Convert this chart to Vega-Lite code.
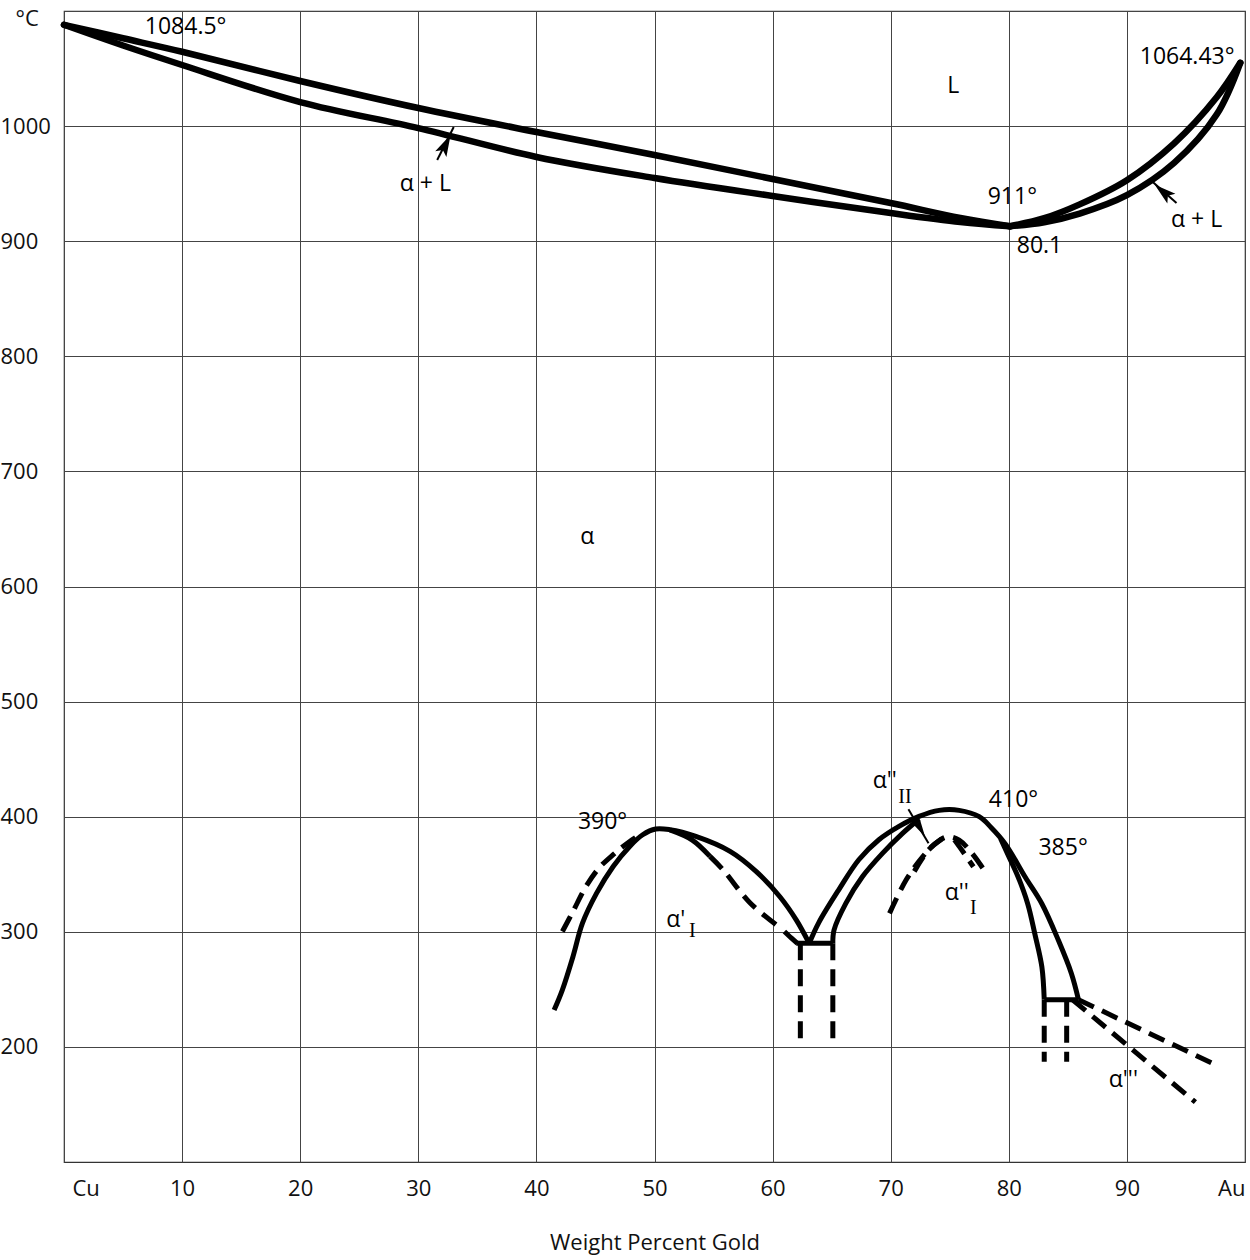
{
  "$schema": "https://vega.github.io/schema/vega-lite/v6.json",
  "width": 1181,
  "height": 1151,
  "autosize": {"type": "none"},
  "padding": {"left": 64, "top": 11, "right": 5, "bottom": 98},
  "background": "white",
  "config": {"view": {"stroke": "#333", "strokeWidth": 1.2}, "font": "Open Sans"},
  "datasets": {
    "top": [
      {"c": "liqCu", "x": 0, "t": 1088}, {"c": "liqCu", "x": 5, "t": 1076.3}, {"c": "liqCu", "x": 10, "t": 1064.6}, {"c": "liqCu", "x": 20, "t": 1039.2}, {"c": "liqCu", "x": 30, "t": 1015.7}, {"c": "liqCu", "x": 40, "t": 994.9}, {"c": "liqCu", "x": 50, "t": 974.9}, {"c": "liqCu", "x": 60, "t": 954}, {"c": "liqCu", "x": 70, "t": 933.2}, {"c": "liqCu", "x": 75.9, "t": 920.2}, {"c": "liqCu", "x": 80.1, "t": 913},
      {"c": "solCu", "x": 0, "t": 1088}, {"c": "solCu", "x": 5, "t": 1070}, {"c": "solCu", "x": 10, "t": 1053.1}, {"c": "solCu", "x": 20, "t": 1020.9}, {"c": "solCu", "x": 30, "t": 998.3}, {"c": "solCu", "x": 40, "t": 973.2}, {"c": "solCu", "x": 50, "t": 954.9}, {"c": "solCu", "x": 60, "t": 939.3}, {"c": "solCu", "x": 70, "t": 924.5}, {"c": "solCu", "x": 75.9, "t": 916.7}, {"c": "solCu", "x": 80.1, "t": 913},
      {"c": "liqAu", "x": 80.1, "t": 913}, {"c": "liqAu", "x": 83, "t": 920}, {"c": "liqAu", "x": 86, "t": 932}, {"c": "liqAu", "x": 90, "t": 953}, {"c": "liqAu", "x": 94, "t": 985}, {"c": "liqAu", "x": 97.6, "t": 1025}, {"c": "liqAu", "x": 99.6, "t": 1055},
      {"c": "solAu", "x": 80.1, "t": 913}, {"c": "solAu", "x": 83, "t": 916.5}, {"c": "solAu", "x": 86, "t": 924}, {"c": "solAu", "x": 90, "t": 940}, {"c": "solAu", "x": 94, "t": 968}, {"c": "solAu", "x": 97.6, "t": 1010}, {"c": "solAu", "x": 99.6, "t": 1055}
    ],
    "low": [
      {"c": "dome1", "x": 41.5, "t": 232}, {"c": "dome1", "x": 42.2, "t": 249.6}, {"c": "dome1", "x": 43.1, "t": 278.6}, {"c": "dome1", "x": 43.9, "t": 307.5}, {"c": "dome1", "x": 45.1, "t": 333.6}, {"c": "dome1", "x": 46.5, "t": 356.8}, {"c": "dome1", "x": 47.9, "t": 374.2}, {"c": "dome1", "x": 49.0, "t": 384.3}, {"c": "dome1", "x": 50.1, "t": 389.3}, {"c": "dome1", "x": 51.3, "t": 388.7}, {"c": "dome1", "x": 53.5, "t": 382.9}, {"c": "dome1", "x": 56.4, "t": 369.9}, {"c": "dome1", "x": 58.6, "t": 352.5}, {"c": "dome1", "x": 60.6, "t": 330.7}, {"c": "dome1", "x": 62.0, "t": 310.4}, {"c": "dome1", "x": 63.1, "t": 290},
      {"c": "in1", "x": 51.3, "t": 388.5}, {"c": "in1", "x": 53.2, "t": 379.7}, {"c": "in1", "x": 54.7, "t": 365.5},
      {"c": "hook1", "x": 61.0, "t": 300.3}, {"c": "hook1", "x": 61.6, "t": 294.5}, {"c": "hook1", "x": 62.1, "t": 290},
      {"c": "tie1", "x": 62.0, "t": 290}, {"c": "tie1", "x": 65.1, "t": 290},
      {"c": "dome2", "x": 63.1, "t": 290}, {"c": "dome2", "x": 63.9, "t": 307.8}, {"c": "dome2", "x": 65.6, "t": 336.5}, {"c": "dome2", "x": 67.3, "t": 362.6}, {"c": "dome2", "x": 69.0, "t": 380}, {"c": "dome2", "x": 70.7, "t": 391.6}, {"c": "dome2", "x": 72.4, "t": 400.3}, {"c": "dome2", "x": 74.1, "t": 405.5}, {"c": "dome2", "x": 75.8, "t": 405.5}, {"c": "dome2", "x": 77.5, "t": 400}, {"c": "dome2", "x": 78.5, "t": 390.7}, {"c": "dome2", "x": 79.7, "t": 376.4}, {"c": "dome2", "x": 81.4, "t": 347.4}, {"c": "dome2", "x": 82.8, "t": 324.4}, {"c": "dome2", "x": 84.2, "t": 292.6}, {"c": "dome2", "x": 85.3, "t": 263.8}, {"c": "dome2", "x": 85.9, "t": 241},
      {"c": "in2L", "x": 65.1, "t": 290}, {"c": "in2L", "x": 65.2, "t": 301.5}, {"c": "in2L", "x": 66.2, "t": 324.7}, {"c": "in2L", "x": 67.6, "t": 347.8}, {"c": "in2L", "x": 69.3, "t": 368.1}, {"c": "in2L", "x": 71.0, "t": 385.5}, {"c": "in2L", "x": 72.4, "t": 398},
      {"c": "in2R", "x": 79.3, "t": 381}, {"c": "in2R", "x": 79.9, "t": 367.7}, {"c": "in2R", "x": 80.8, "t": 347.4}, {"c": "in2R", "x": 81.6, "t": 324.4}, {"c": "in2R", "x": 82.2, "t": 298.4}, {"c": "in2R", "x": 82.8, "t": 269.5}, {"c": "in2R", "x": 83.0, "t": 241},
      {"c": "tie2", "x": 83.0, "t": 241}, {"c": "tie2", "x": 85.9, "t": 241}
    ],
    "dashed": [
      {"c": "dL1", "x": 42.2, "t": 300.3}, {"c": "dL1", "x": 43.1, "t": 317.7}, {"c": "dL1", "x": 44.2, "t": 339.4}, {"c": "dL1", "x": 45.3, "t": 355.4}, {"c": "dL1", "x": 46.5, "t": 367}, {"c": "dL1", "x": 47.9, "t": 378.5}, {"c": "dL1", "x": 49.0, "t": 385.8},
      {"c": "dI1", "x": 54.7, "t": 365.5}, {"c": "dI1", "x": 55.8, "t": 353.9}, {"c": "dI1", "x": 58.1, "t": 325}, {"c": "dI1", "x": 60.5, "t": 304.6},
      {"c": "vd1a", "x": 62.35, "t": 290}, {"c": "vd1a", "x": 62.35, "t": 200},
      {"c": "vd1b", "x": 65.1, "t": 290}, {"c": "vd1b", "x": 65.1, "t": 200},
      {"c": "vd2a", "x": 83.0, "t": 241}, {"c": "vd2a", "x": 83.0, "t": 187},
      {"c": "vd2b", "x": 84.9, "t": 241}, {"c": "vd2b", "x": 84.9, "t": 187},
      {"c": "tail1", "x": 85.9, "t": 241}, {"c": "tail1", "x": 97.6, "t": 184},
      {"c": "tail2", "x": 85.4, "t": 241}, {"c": "tail2", "x": 95.8, "t": 152},
      {"c": "d3a", "x": 69.9, "t": 316}, {"c": "d3a", "x": 71.3, "t": 345}, {"c": "d3a", "x": 72.7, "t": 365.2}, {"c": "d3a", "x": 73.8, "t": 376.9}, {"c": "d3a", "x": 74.8, "t": 382.6}, {"c": "d3a", "x": 75.8, "t": 379.7}, {"c": "d3a", "x": 76.9, "t": 368}, {"c": "d3a", "x": 78.0, "t": 352.2},
      {"c": "d3b", "x": 72.0, "t": 352.5}, {"c": "d3b", "x": 73.2, "t": 371}, {"c": "d3b", "x": 74.3, "t": 380.5},
      {"c": "d3c", "x": 75.4, "t": 380}, {"c": "d3c", "x": 76.3, "t": 367}, {"c": "d3c", "x": 77.0, "t": 356.5}
    ],
    "shafts": [
      {"c": "sL", "x": 31.6, "t": 970.5}, {"c": "sL", "x": 33.0, "t": 999.2},
      {"c": "sR", "x": 92.0, "t": 953.2}, {"c": "sR", "x": 94.2, "t": 933.2},
      {"c": "sA", "x": 71.5, "t": 406.4}, {"c": "sA", "x": 73.2, "t": 376.9}
    ],
    "heads": [
      {"a": "L", "x": 32.3, "t": 983.6},
      {"a": "R", "x": 93.1, "t": 942.7},
      {"a": "A", "x": 72.5, "t": 389.9}
    ],
    "labels": [
      {"x": 10.3, "t": 1086.1, "label": "1084.5°"},
      {"x": 95.1, "t": 1060, "label": "1064.43°"},
      {"x": 75.3, "t": 1034.8, "label": "L"},
      {"x": 30.6, "t": 949.7, "label": "α + L"},
      {"x": 80.3, "t": 938.4, "label": "911°"},
      {"x": 82.6, "t": 895.8, "label": "80.1"},
      {"x": 95.9, "t": 918.4, "label": "α + L"},
      {"x": 44.3, "t": 643, "label": "α"},
      {"x": 45.6, "t": 395.7, "label": "390°"},
      {"x": 51.8, "t": 310, "label": "α'"},
      {"x": 69.5, "t": 431, "label": "α''"},
      {"x": 80.4, "t": 414.8, "label": "410°"},
      {"x": 84.6, "t": 373, "label": "385°"},
      {"x": 75.6, "t": 333.5, "label": "α''"},
      {"x": 89.7, "t": 171, "label": "α'''"}
    ],
    "subs": [
      {"x": 53.2, "t": 300.5, "label": "I"},
      {"x": 71.2, "t": 417.5, "label": "II"},
      {"x": 77.0, "t": 321, "label": "I"}
    ]
  },
  "encoding": {
    "x": {
      "field": "x", "type": "quantitative",
      "scale": {"domain": [0, 100], "nice": false, "zero": false},
      "axis": {
        "values": [0, 10, 20, 30, 40, 50, 60, 70, 80, 90, 100],
        "labelExpr": "datum.value == 0 ? 'Cu' : datum.value == 100 ? 'Au' : datum.label",
        "grid": true, "gridColor": "#444", "gridWidth": 1,
        "domain": false, "ticks": false, "tickSize": 0,
        "labelPadding": 16, "labelFont": "Open Sans", "labelFontSize": 22, "labelColor": "#111",
        "labelFlush": true,
        "labelOffset": {"condition": {"test": "datum.value == 0", "value": 8}, "value": 0},
        "labelOverlap": false,
        "title": "Weight Percent Gold", "titleFont": "Open Sans", "titleFontSize": 22,
        "titleFontWeight": "normal", "titleColor": "#111", "titlePadding": 33
      }
    },
    "y": {
      "field": "t", "type": "quantitative",
      "scale": {"domain": [100, 1100], "nice": false, "zero": false},
      "axis": {
        "values": [200, 300, 400, 500, 600, 700, 800, 900, 1000, 1100],
        "format": "d",
        "labelExpr": "datum.value == 1100 ? '°C' : datum.label",
        "grid": true, "gridColor": "#444", "gridWidth": 1,
        "domain": false, "ticks": false, "tickSize": 0,
        "labelAlign": "left", "labelBaseline": "middle",
        "labelPadding": {"condition": {"test": "datum.value == 1100", "value": 49}, "value": 64},
        "labelOffset": {"condition": {"test": "datum.value == 1100", "value": 7}, "value": 0},
        "labelFont": "Open Sans", "labelFontSize": 22, "labelColor": "#111",
        "labelOverlap": false, "labelFlush": false,
        "title": null
      }
    }
  },
  "layer": [
    {
      "data": {"name": "top"},
      "mark": {"type": "line", "color": "#000", "strokeWidth": 6.5, "interpolate": "catmull-rom", "strokeJoin": "round", "strokeCap": "round"},
      "encoding": {"detail": {"field": "c"}, "order": {"value": null}}
    },
    {
      "data": {"name": "low"},
      "mark": {"type": "line", "color": "#000", "strokeWidth": 5, "interpolate": "catmull-rom", "strokeJoin": "round", "strokeCap": "butt"},
      "encoding": {"detail": {"field": "c"}, "order": {"value": null}}
    },
    {
      "data": {"name": "dashed"},
      "mark": {"type": "line", "color": "#000", "strokeWidth": 5, "interpolate": "catmull-rom", "strokeDash": [17, 9], "strokeCap": "butt"},
      "encoding": {"detail": {"field": "c"}, "order": {"value": null}}
    },
    {
      "data": {"name": "shafts"},
      "mark": {"type": "line", "color": "#000", "strokeWidth": 2},
      "encoding": {"detail": {"field": "c"}, "order": {"value": null}}
    },
    {
      "data": {"name": "heads"},
      "transform": [{"filter": "datum.a == 'L'"}],
      "mark": {"type": "point", "shape": "M0,-1L0.55,0.9L0,0.5L-0.55,0.9Z", "filled": true, "color": "#000", "size": 520, "angle": 27, "opacity": 1}
    },
    {
      "data": {"name": "heads"},
      "transform": [{"filter": "datum.a == 'R'"}],
      "mark": {"type": "point", "shape": "M0,-1L0.55,0.9L0,0.5L-0.55,0.9Z", "filled": true, "color": "#000", "size": 520, "angle": 310, "opacity": 1}
    },
    {
      "data": {"name": "heads"},
      "transform": [{"filter": "datum.a == 'A'"}],
      "mark": {"type": "point", "shape": "M0,-1L0.45,0.9L0,0.55L-0.45,0.9Z", "filled": true, "color": "#000", "size": 380, "angle": 150, "opacity": 1}
    },
    {
      "data": {"name": "labels"},
      "mark": {"type": "text", "font": "Open Sans", "fontSize": 23, "color": "#000", "align": "center", "baseline": "middle"},
      "encoding": {"text": {"field": "label"}}
    },
    {
      "data": {"name": "subs"},
      "mark": {"type": "text", "font": "Liberation Serif", "fontSize": 20, "color": "#000", "align": "center", "baseline": "middle"},
      "encoding": {"text": {"field": "label"}}
    }
  ]
}
